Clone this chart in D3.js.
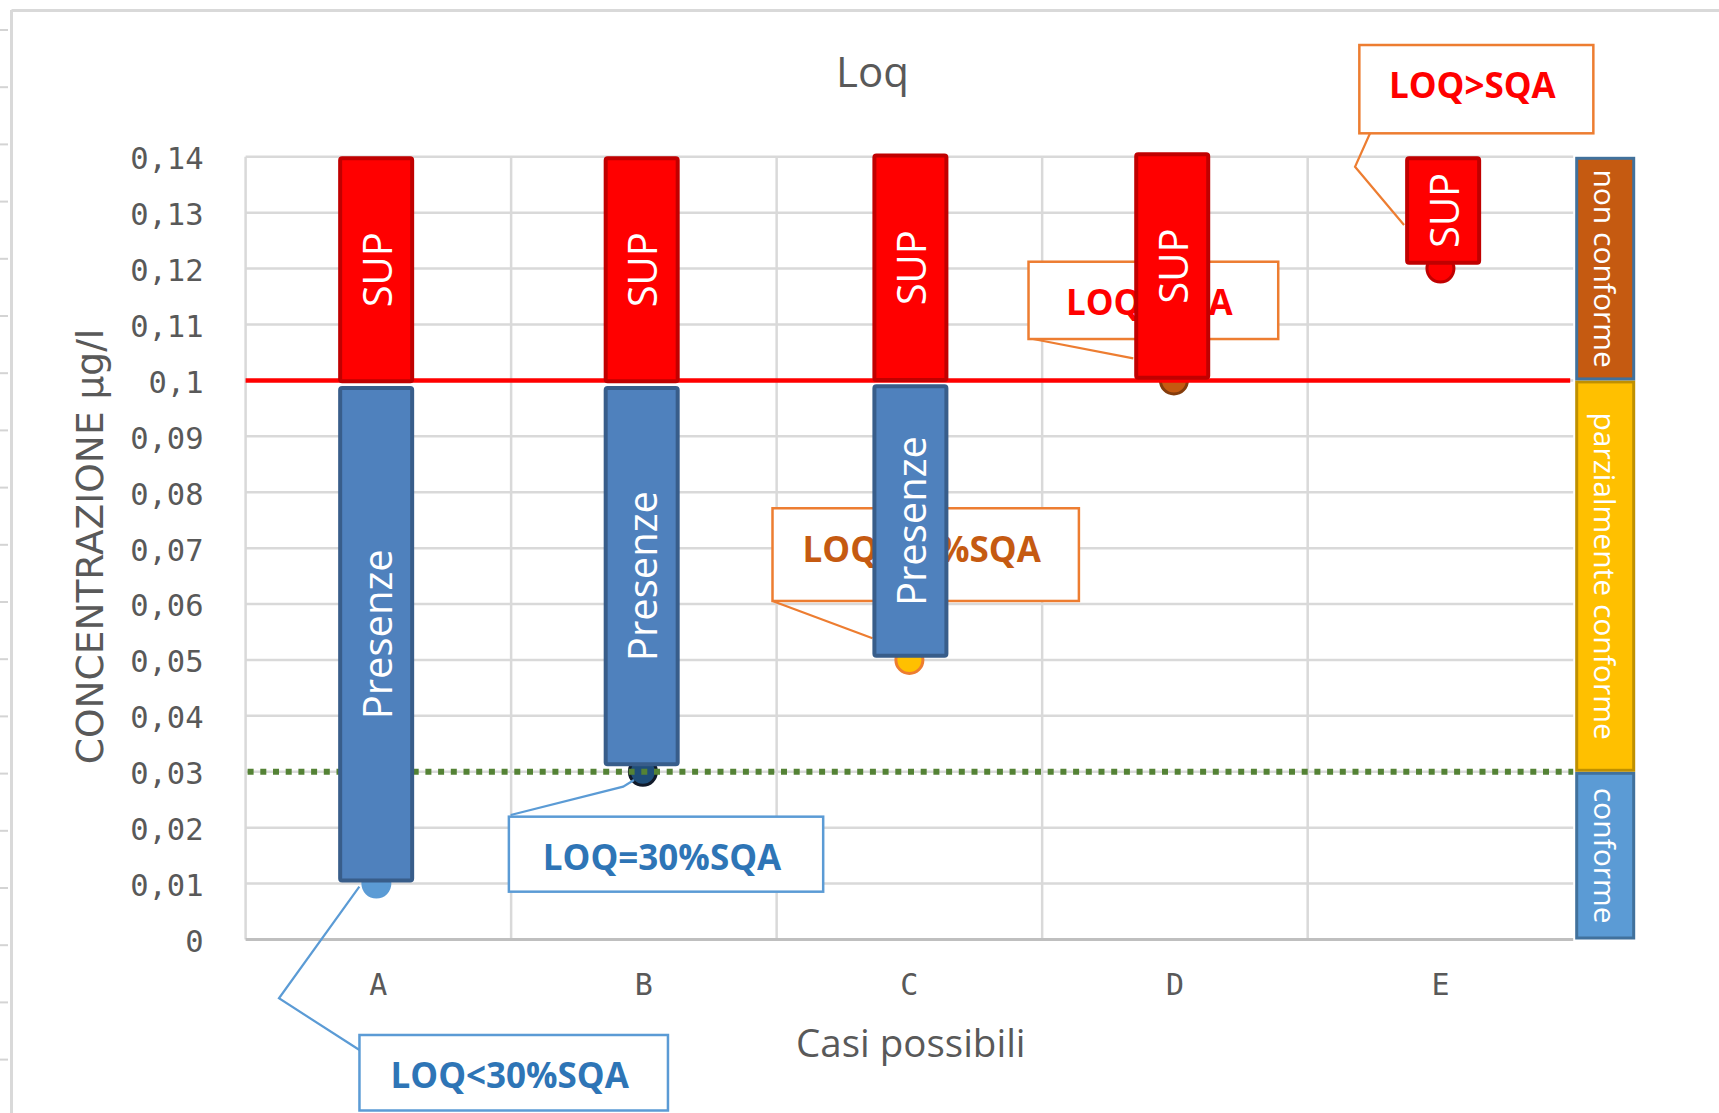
<!DOCTYPE html>
<html lang="it">
<head>
  <meta charset="UTF-8">
  <title>Loq</title>
  <style>
    body { margin: 0; background: #fff; }
    svg { display: block; }
  </style>
</head>
<body>
  <div id="chart"></div>

  <script src="https://d3js.org/d3.v7.min.js"></script>
  <script>
    // --- data ---
    const categories = ['A', 'B', 'C', 'D', 'E'];
    const loqValues = [0.01, 0.03, 0.05, 0.10, 0.12];
    const presenzeFrom = [0.0102, 0.031, 0.0504, null, null];
    const presenzeTo = [0.099, 0.099, 0.0993, null, null];
    const supFrom = [0.0995, 0.0995, 0.0997, 0.1001, 0.1207];
    const supTo = [0.1401, 0.1401, 0.1406, 0.1408, 0.1401];
    const yTickValues = [0, 0.01, 0.02, 0.03, 0.04, 0.05, 0.06, 0.07, 0.08, 0.09, 0.1, 0.11, 0.12, 0.13, 0.14];
    const sqaValue = 0.1;
    const loq30Value = 0.03;
    const zoneNames = ['conforme', 'parzialmente conforme', 'non conforme'];
    const zoneFrom = [0, 0.03, 0.1];
    const zoneTo = [0.03, 0.1, 0.14];
    const calloutTexts = ['LOQ<30%SQA', 'LOQ=30%SQA', 'LOQ=50%SQA', 'LOQ=SQA', 'LOQ>SQA'];

    // --- layout / style ---
    const WIDTH = 1719;
    const HEIGHT = 1113;
    const plot = {left: 245.6, right: 1573.2, top: 156.8, bottom: 939.5};
    const GRAY_TEXT = '#595959';
    const GRID = '#d9d9d9';
    const BAR_W = 72;
    const barNudge = [-2.2, -2.2, 1, -2.7, 2.7]; // bars are hand placed, not exactly centred
    const dotNudge = [-2, -1, 0, -1, 0];
    const dotFill = ['#5B9BD5', '#1F4E79', '#FFC000', '#C55A11', '#FF0000'];
    const dotStroke = ['#5B9BD5', '#111a2a', '#ED7D31', '#843C0C', '#C00000'];
    const zoneFill = ['#5B9BD5', '#FFC000', '#C55A11'];
    const zoneStroke = ['#41719C', '#BF9000', '#41719C'];
    const calloutStroke = ['#5B9BD5', '#5B9BD5', '#ED7D31', '#ED7D31', '#ED7D31'];
    const calloutColor = ['#2E75B6', '#2E75B6', '#C55A11', '#FF0000', '#FF0000'];
    // box offset/size and leader points relative to the dot (px)
    const calloutLayout = [
      {dx: -18.9, dy: 151.4, w: 308.5, h: 75.5, leader: [[-19, 3], [-99.4, 114.7], [-18.9, 166.4]]},
      {dx: -135, dy: 44.9, w: 314.3, h: 75, leader: [[-133.2, 43.2], [-20.7, 14.9], [-9.9, 8.2]]},
      {dx: -136.9, dy: -151.7, w: 306.4, h: 92.7, leader: [[-136.9, -59], [-36.9, -21.7]]},
      {dx: -146.4, dy: -118.7, w: 249.7, h: 77.3, leader: [[-141.9, -41.4], [-41.6, -22.1]]},
      {dx: -81.1, dy: -223.6, w: 234, h: 88.3, leader: [[-70.4, -135.3], [-85.4, -101.9], [-36.4, -43.6]]}
    ];

    const xScale = d3.scaleBand()
      .domain(categories)
      .range([plot.left, plot.right])
      .padding(0);

    const yScale = d3.scaleLinear()
      .domain([0, 0.14])
      .range([plot.bottom, plot.top]);

    const cx = (i) => xScale(categories[i]) + xScale.bandwidth() / 2;

    const svg = d3.select('#chart')
      .append('svg')
      .attr('width', WIDTH)
      .attr('height', HEIGHT)
      .attr('viewBox', `0 0 ${WIDTH} ${HEIGHT}`);

    svg.append('rect').attr('width', WIDTH).attr('height', HEIGHT).attr('fill', '#fff');

    // outer frame and little ruler marks on the left edge
    svg.append('line').attr('x1', 11.5).attr('x2', WIDTH).attr('y1', 10.5).attr('y2', 10.5)
      .attr('stroke', GRID).attr('stroke-width', 3);
    svg.append('line').attr('x1', 11.5).attr('x2', 11.5).attr('y1', 10).attr('y2', HEIGHT)
      .attr('stroke', GRID).attr('stroke-width', 3);
    svg.append('g').selectAll('line')
      .data(d3.range(19))
      .join('line')
      .attr('x1', 0).attr('x2', 8)
      .attr('y1', (d) => 30 + d * 57.2).attr('y2', (d) => 30 + d * 57.2)
      .attr('stroke', '#d4d4d4').attr('stroke-width', 2);

    // gridlines
    const grid = svg.append('g').attr('class', 'grid');
    grid.selectAll('line.h')
      .data(yTickValues.slice(1))
      .join('line')
      .attr('class', 'h')
      .attr('x1', plot.left).attr('x2', plot.right)
      .attr('y1', (d) => yScale(d)).attr('y2', (d) => yScale(d))
      .attr('stroke', GRID).attr('stroke-width', 2.5);
    grid.selectAll('line.v')
      .data(categories)
      .join('line')
      .attr('class', 'v')
      .attr('x1', (d) => xScale(d)).attr('x2', (d) => xScale(d))
      .attr('y1', plot.top).attr('y2', plot.bottom)
      .attr('stroke', GRID).attr('stroke-width', 2.5);
    grid.append('line')
      .attr('x1', plot.left).attr('x2', plot.right)
      .attr('y1', yScale(0)).attr('y2', yScale(0))
      .attr('stroke', '#bfbfbf').attr('stroke-width', 3);

    // axes
    const yAxis = d3.axisLeft(yScale)
      .tickValues(yTickValues)
      .tickSize(0)
      .tickPadding(42)
      .tickFormat((d) => String(+d.toFixed(2)).replace('.', ','));
    const yAxisG = svg.append('g')
      .attr('transform', `translate(${plot.left},0)`)
      .call(yAxis);
    yAxisG.select('.domain').remove();
    yAxisG.selectAll('text')
      .attr('dy', '0.39em')
      .attr('fill', GRAY_TEXT)
      .style('font-family', '"DejaVu Sans Mono", monospace')
      .style('font-size', '30.5px');

    const xAxis = d3.axisBottom(xScale).tickSize(0).tickPadding(34.5);
    const xAxisG = svg.append('g')
      .attr('transform', `translate(0,${plot.bottom})`)
      .call(xAxis);
    xAxisG.select('.domain').remove();
    xAxisG.selectAll('text')
      .attr('fill', GRAY_TEXT)
      .style('font-family', '"DejaVu Sans Mono", monospace')
      .style('font-size', '30px');

    // titles
    svg.append('text')
      .attr('x', 872.5).attr('y', 86.7)
      .attr('text-anchor', 'middle')
      .attr('fill', GRAY_TEXT)
      .style('font-family', '"Open Sans", sans-serif')
      .style('font-size', '42px')
      .text('Loq');
    svg.append('text')
      .attr('x', 910.8).attr('y', 1056.7)
      .attr('text-anchor', 'middle')
      .attr('fill', GRAY_TEXT)
      .style('font-family', '"Open Sans", sans-serif')
      .style('font-size', '38.5px')
      .text('Casi possibili');
    svg.append('text')
      .attr('transform', 'translate(103,546.5) rotate(-90)')
      .attr('text-anchor', 'middle')
      .attr('fill', GRAY_TEXT)
      .style('font-family', '"DejaVu Sans", sans-serif')
      .style('font-size', '37.5px')
      .text('CONCENTRAZIONE µg/l');

    // LOQ dots
    svg.append('g').selectAll('circle')
      .data(loqValues)
      .join('circle')
      .attr('cx', (d, i) => cx(i) + dotNudge[i])
      .attr('cy', (d) => yScale(d))
      .attr('r', 13.5)
      .attr('fill', (d, i) => dotFill[i])
      .attr('stroke', (d, i) => dotStroke[i])
      .attr('stroke-width', 3);

    // reference lines: 30% SQA (dotted) and SQA
    svg.append('line')
      .attr('x1', plot.left + 2).attr('x2', plot.right)
      .attr('y1', yScale(loq30Value)).attr('y2', yScale(loq30Value))
      .attr('stroke', '#548235').attr('stroke-width', 6)
      .attr('stroke-dasharray', '6 6.7');
    svg.append('line')
      .attr('x1', plot.left).attr('x2', plot.right - 3)
      .attr('y1', yScale(sqaValue)).attr('y2', yScale(sqaValue))
      .attr('stroke', '#FF0000').attr('stroke-width', 4.5);

    // callouts
    const callouts = svg.append('g').attr('class', 'callouts');
    calloutTexts.forEach((t, i) => {
      const px = cx(i);
      const py = yScale(loqValues[i]);
      const L = calloutLayout[i];
      const g = callouts.append('g');
      g.append('polyline')
        .attr('points', L.leader.map((p) => `${px + p[0]},${py + p[1]}`).join(' '))
        .attr('fill', 'none')
        .attr('stroke', calloutStroke[i])
        .attr('stroke-width', 2.2);
      g.append('rect')
        .attr('x', px + L.dx).attr('y', py + L.dy)
        .attr('width', L.w).attr('height', L.h)
        .attr('fill', '#fff')
        .attr('stroke', calloutStroke[i])
        .attr('stroke-width', 2.5);
      g.append('text')
        .attr('x', px + L.dx + L.w / 2 - 4)
        .attr('y', py + L.dy + 53.3)
        .attr('text-anchor', 'middle')
        .attr('fill', calloutColor[i])
        .style('font-family', '"Open Sans", sans-serif')
        .style('font-weight', 700)
        .style('font-size', '35px')
        .text(t);
    });

    // bars
    const barData = [];
    categories.forEach((c, i) => {
      if (presenzeFrom[i] !== null) {
        barData.push({cat: c, i, from: presenzeFrom[i], to: presenzeTo[i], label: 'Presenze', fill: '#4F81BD', stroke: '#385D8A'});
      }
      barData.push({cat: c, i, from: supFrom[i], to: supTo[i], label: 'SUP', fill: '#FF0000', stroke: '#C00000'});
    });

    const barX = (d) => cx(d.i) + barNudge[d.i];

    const bars = svg.append('g').attr('class', 'bars');
    bars.selectAll('rect')
      .data(barData)
      .join('rect')
      .attr('x', (d) => barX(d) - BAR_W / 2)
      .attr('width', BAR_W)
      .attr('y', (d) => yScale(d.to) + 2)
      .attr('height', (d) => yScale(d.from) - yScale(d.to) - 4)
      .attr('rx', 2)
      .attr('fill', (d) => d.fill)
      .attr('stroke', (d) => d.stroke)
      .attr('stroke-width', 4);

    bars.selectAll('text')
      .data(barData)
      .join('text')
      .attr('transform', (d) => `translate(${barX(d)},${(yScale(d.from) + yScale(d.to)) / 2}) rotate(-90)`)
      .attr('text-anchor', 'middle')
      .attr('dominant-baseline', 'central')
      .attr('fill', '#fff')
      .style('font-family', '"Open Sans", sans-serif')
      .style('font-size', '40px')
      .text((d) => d.label);

    // compliance zones on the right
    const zoneX = plot.right + 3.5;
    const zoneW = 57;
    const zones = svg.append('g').attr('class', 'zones');
    zones.selectAll('rect')
      .data(zoneNames)
      .join('rect')
      .attr('x', zoneX)
      .attr('width', zoneW)
      .attr('y', (d, i) => yScale(zoneTo[i]) + 1.5)
      .attr('height', (d, i) => yScale(zoneFrom[i]) - yScale(zoneTo[i]) - 3)
      .attr('fill', (d, i) => zoneFill[i])
      .attr('stroke', (d, i) => zoneStroke[i])
      .attr('stroke-width', 3);
    zones.selectAll('text')
      .data(zoneNames)
      .join('text')
      .attr('transform', (d, i) => `translate(${zoneX + zoneW / 2},${(yScale(zoneFrom[i]) + yScale(zoneTo[i])) / 2}) rotate(90)`)
      .attr('text-anchor', 'middle')
      .attr('dominant-baseline', 'central')
      .attr('fill', '#fff')
      .style('font-family', '"Open Sans", sans-serif')
      .style('font-size', '30px')
      .text((d) => d);
  </script>
</body>
</html>
